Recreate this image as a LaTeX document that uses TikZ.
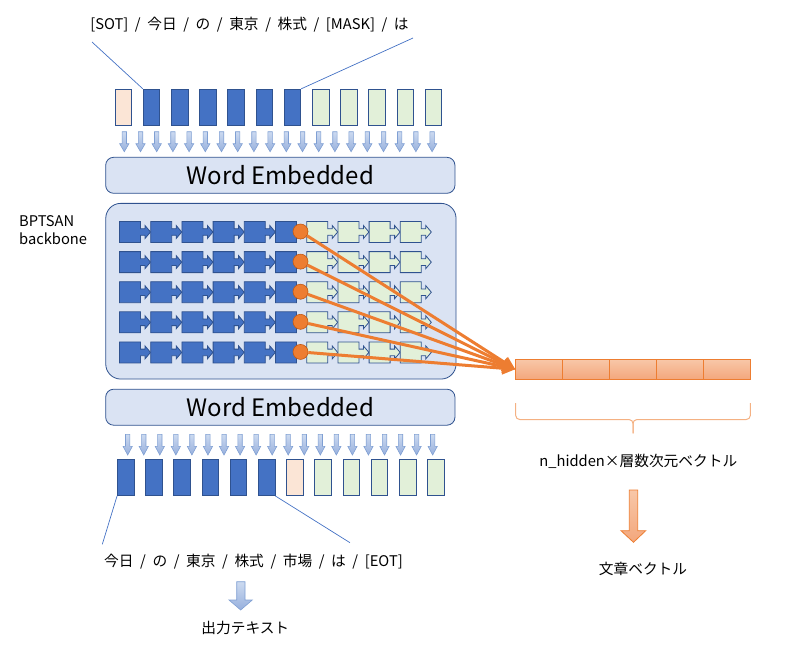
\documentclass[tikz,border=0pt]{standalone}
\usepackage{fontspec}
\setmainfont{Noto Sans CJK JP}
\newfontfamily\seqfont[WordSpace=2]{Noto Sans CJK JP}
\usetikzlibrary{arrows.meta}
\definecolor{tokBlue}{HTML}{4472C4}
\definecolor{tokEdge}{HTML}{2F528F}
\definecolor{tokGreen}{HTML}{E2F0D9}
\definecolor{tokPeach}{HTML}{FBE5D6}
\definecolor{boxFill}{HTML}{DAE3F3}
\definecolor{arrEdge}{HTML}{7F9FD3}
\definecolor{arrTop}{HTML}{CCDAF0}
\definecolor{arrBot}{HTML}{97B0DD}
\definecolor{hidOrange}{HTML}{ED7D31}
\definecolor{hidDark}{HTML}{C55A11}
\definecolor{vecTop}{HTML}{F8C7A8}
\definecolor{vecBot}{HTML}{F3A77C}
\definecolor{braceOrange}{HTML}{F4B183}
\tikzset{
	token/.style={rectangle, draw=tokEdge, line width=0.8pt, minimum width=16.5pt, minimum height=36.5pt, inner sep=0pt},
	embedBox/.style={rectangle, draw=tokEdge, fill=boxFill, line width=0.8pt, rounded corners=8pt, minimum width=349.3pt, minimum height=36pt, font=\fontsize{24}{28}\selectfont},
	cellBlue/.style={draw=tokEdge, fill=tokBlue, line width=0.8pt},
	cellGreen/.style={draw=tokEdge, fill=tokGreen, line width=0.8pt},
	downArr/.style={draw=arrEdge, line width=0.6pt, top color=arrTop, bottom color=arrBot},
	hidDot/.style={circle, draw=hidDark, fill=hidOrange, line width=0.6pt, minimum size=15pt, inner sep=0pt},
	hidLine/.style={draw=hidOrange, line width=3pt, -{Triangle[length=13pt, width=12pt]}},
	vecCell/.style={rectangle, draw=hidOrange, line width=0.8pt, top color=vecTop, bottom color=vecBot, minimum width=46.9pt, minimum height=20pt, inner sep=0pt},
	bigArr/.style={draw=hidOrange, line width=0.8pt, top color=vecTop, bottom color=vecBot},
	pointer/.style={draw=tokBlue, line width=0.7pt},
	txt/.style={inner sep=0pt, font=\fontsize{14.7}{18.5}\selectfont}
}
\begin{document}
\begin{tikzpicture}[x=1pt, y=-1pt]
\useasboundingbox (0,0) rectangle (786,646);

	\node[txt, font=\fontsize{14.7}{18.5}\seqfont](inText) at (249.5,25){[SOT] / 今日 / の / 東京 / 株式 / [MASK] / は};
	\coordinate(inLeft) at (92,42);
	\coordinate(inRight) at (413,38);

	\foreach \i/\col in {1/tokPeach,2/tokBlue,3/tokBlue,4/tokBlue,5/tokBlue,6/tokBlue,7/tokBlue,8/tokGreen,9/tokGreen,10/tokGreen,11/tokGreen,12/tokGreen}
		\node[token, fill=\col](tok\i) at ({123.3+28.2*(\i-1)},107.5){};
	\draw[pointer] (inLeft) -- (tok2.north west);
	\draw[pointer] (inRight) -- (tok7.north east);

	\foreach \k in {0,...,19}
		\draw[downArr] ({124.3+16.2*\k-2.2},131.7) -- ++(4.4,0) -- ++(0,12) -- ++(2.45,0) -- ++(-4.65,8) -- ++(-4.65,-8) -- ++(2.45,0) -- cycle;

	\node[embedBox](embedTop) at (280.3,175.3){Word Embedded};

	\node[txt, align=left, anchor=north west](bbLabel) at (19,215){BPTSAN\\backbone};
	\node[rectangle, draw=tokEdge, fill=boxFill, line width=0.8pt, rounded corners=15pt, minimum width=350.3pt, minimum height=175.7pt](backbone) at (280.9,291.2){};

	\foreach \r in {0,...,4}
		\foreach \c in {0,...,9}{
			\ifnum\c<6 \def\cellstyle{cellBlue}\else \def\cellstyle{cellGreen}\fi
			\draw[\cellstyle, shift={({130+31.2*\c},{232+30.1*\r})}] (-10.5,-10.5) -- (10.5,-10.5) -- (10.5,-3.3) -- (15,-3.3) -- (15,-6.5) -- (20.5,0) -- (15,6.5) -- (15,3.3) -- (10.5,3.3) -- (10.5,10.5) -- (-10.5,10.5) -- cycle;
		}

	\node[embedBox](embedBot) at (280.3,407.2){Word Embedded};

	\foreach \k in {0,...,19}
		\draw[downArr] ({127.7+16.05*\k-2.2},434.3) -- ++(4.4,0) -- ++(0,12) -- ++(2.45,0) -- ++(-4.65,8.7) -- ++(-4.65,-8.7) -- ++(2.45,0) -- cycle;

	\foreach \i/\col in {1/tokBlue,2/tokBlue,3/tokBlue,4/tokBlue,5/tokBlue,6/tokBlue,7/tokPeach,8/tokGreen,9/tokGreen,10/tokGreen,11/tokGreen,12/tokGreen}
		\node[token, fill=\col](out\i) at ({125.7+28.2*(\i-1)},477.3){};

	\node[txt, font=\fontsize{14.7}{18.5}\seqfont](outText) at (253.5,561.7){今日 / の / 東京 / 株式 / 市場 / は / [EOT]};
	\coordinate(outLeft) at (102.3,544.3);
	\coordinate(outRight) at (350,542.7);
	\draw[pointer] (out1.south west) -- (outLeft);
	\draw[pointer] (out6.south east) -- (outRight);

	\draw[downArr] (236.7,581.7) -- (245,581.7) -- (245,600) -- (252.3,600) -- (240.65,610) -- (229,600) -- (236.7,600) -- cycle;
	\node[txt](genText) at (245.3,628.3){出力テキスト};

	\foreach \i in {1,...,5}
		\node[vecCell](vec\i) at ({539.2+46.9*(\i-1)},369.3){};

	\foreach \r in {0,...,4}
		\node[hidDot](dot\r) at (300.5,{231.5+30.1*\r}){};
	\foreach \r in {0,...,4}
		\draw[hidLine] (dot\r) -- (vec1.west);

	\draw[braceOrange, line width=1pt, rounded corners=4pt] (515.7,403) -- (515.7,419.5) -- (633,419.5) -- (633,433.3);
	\draw[braceOrange, line width=1pt, rounded corners=4pt] (750.3,403) -- (750.3,419.5) -- (633,419.5) -- (633,433.3);

	\node[txt](dimText) at (638.3,461.7){n\_hidden×層数次元ベクトル};

	\draw[bigArr] (629.3,490) -- (637.7,490) -- (637.7,530.7) -- (645.7,530.7) -- (633.5,542.3) -- (621,530.7) -- (629.3,530.7) -- cycle;
	\node[txt](sentText) at (643,569.3){文章ベクトル};
\end{tikzpicture}
\end{document}
